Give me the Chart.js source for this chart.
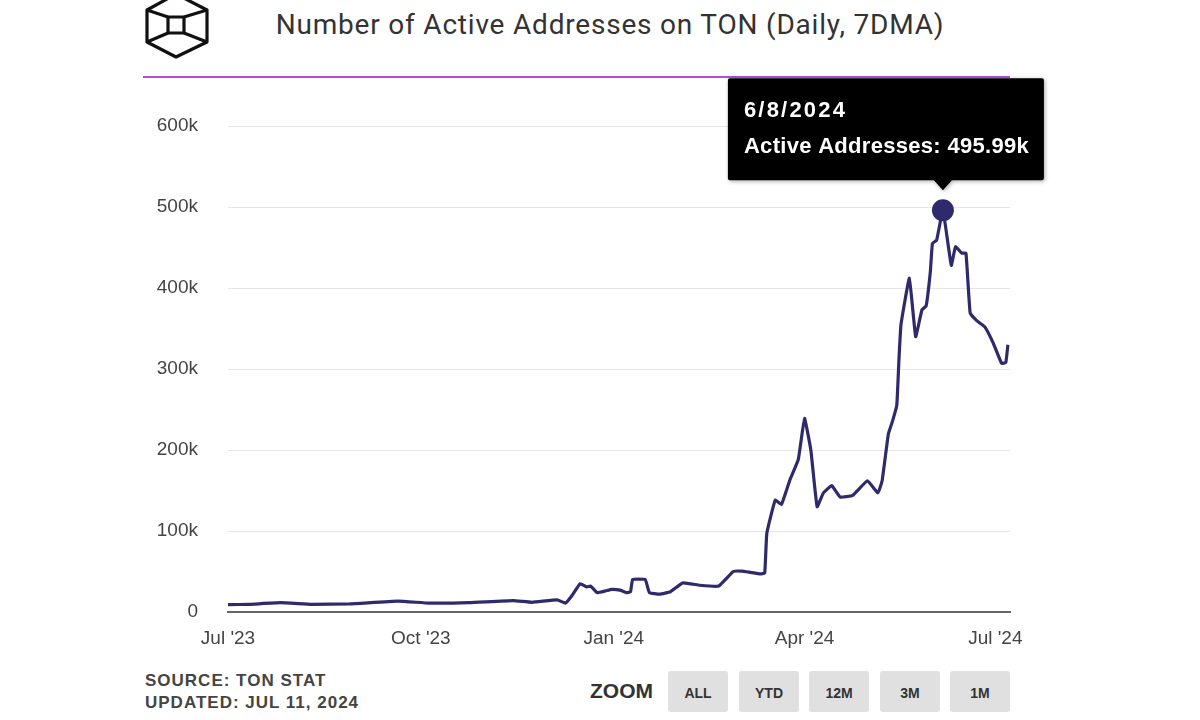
<!DOCTYPE html>
<html>
<head>
<meta charset="utf-8">
<script src="https://cdn.jsdelivr.net/npm/chart.js@4.4.1/dist/chart.umd.min.js"></script>
<style>
  html, body { margin:0; padding:0; background:#fff; }
  body { width:1200px; height:720px; position:relative; overflow:hidden; font-family:"Liberation Sans", Arial, sans-serif; }
  #title { position:absolute; left:0; width:1220px; top:8px; text-align:center; font-family:Roboto, sans-serif; font-size:28px; letter-spacing:0.8px; color:#333; white-space:nowrap; }
  #logo { position:absolute; left:140px; top:-8px; }
  #rule { position:absolute; left:143px; top:76px; width:867px; height:2px; background:#b350d6; }
  #src { position:absolute; left:145px; top:670px; font-weight:bold; font-size:17px; color:#444; line-height:22px; letter-spacing:1px; }
  #zoomlbl { position:absolute; left:590px; top:679px; font-weight:bold; font-size:21px; color:#333; }
  .btn { position:absolute; top:671px; height:41px; width:60px; background:#e0e0e0; border-radius:3px; font-weight:bold; font-size:14px; color:#333; text-align:center; line-height:44px; }
  canvas { position:absolute; left:0; top:0; }
</style>
</head>
<body>
<svg id="logo" width="72" height="70" viewBox="0 0 72 70">
  <g fill="none" stroke="#111" stroke-width="3.2" stroke-linejoin="round">
    <polygon points="36,2 67,18 67,50 36,65 7,50 7,18"/>
    <rect x="28" y="25" width="16" height="16"/>
    <line x1="7" y1="18" x2="28" y2="25"/>
    <line x1="67" y1="18" x2="44" y2="25"/>
    <line x1="7" y1="50" x2="28" y2="41"/>
    <line x1="67" y1="50" x2="44" y2="41"/>
  </g>
</svg>
<div id="title">Number of Active Addresses on TON (Daily, 7DMA)</div>
<div id="rule"></div>
<div id="src">SOURCE: TON STAT<br>UPDATED: JUL 11, 2024</div>
<div id="zoomlbl">ZOOM</div>
<div class="btn" style="left:668px">ALL</div>
<div class="btn" style="left:739px">YTD</div>
<div class="btn" style="left:809px">12M</div>
<div class="btn" style="left:880px">3M</div>
<div class="btn" style="left:950px">1M</div>
<canvas id="c" width="1200" height="720"></canvas>
<script>
// Days since 1 Jul 2023
const days = [0,10,25,40,58,81,96,115,136,145,157,161,164,168,171,173,176,180,183,187,190,192,193,199,201,206,211,217,225,234,241,245,249,254,256,257,261,264,268,272,275,278,281,284,288,292,298,305,310,312,315,317,319,320,321,325,328,331,333,335,336,338,341,345,347,350,352,354,357,361,365,369,371,372];
// Active addresses (7DMA)
const activeAddresses = [9000,9500,11500,9500,10000,13500,11000,11500,14000,12000,15000,11000,20000,35000,31000,32000,24000,26000,28000,27000,24000,25000,40000,40000,24000,22000,25000,36000,33000,32000,50000,50500,49000,47000,48000,97000,138000,133000,163000,188000,239000,200000,130000,147000,156000,142000,144000,162000,147000,162000,220000,236000,255000,310000,355000,412000,340000,373000,378000,420000,455000,459000,495990,428000,451000,443000,443000,369000,360000,352000,332000,307000,308000,330000];
const xTickValues = [0,92,184,275,366];
const xTickLabels = ["Jul '23","Oct '23","Jan '24","Apr '24","Jul '24"];
const yTickValues = [0,100000,200000,300000,400000,500000,600000];
const highlightDate = "6/8/2024";
const seriesName = "Active Addresses";

const peakIdx = activeAddresses.indexOf(Math.max(...activeAddresses));
const pts = days.map((d,i)=>({x:d, y:activeAddresses[i]}));
const lineColor = '#2e2a6c';
const axisFont = { family:'"Liberation Sans", Arial, sans-serif', size:19 };

const tooltipPlugin = {
  id:'fixedTip',
  afterDraw(chart){
    const el = chart.getDatasetMeta(0).data[peakIdx];
    const px = el.x, py = el.y;
    const ctx = chart.ctx;
    const l = px-215, r = px+101, t = py-132, b = py-30;
    ctx.save();
    ctx.shadowColor='rgba(0,0,0,0.35)'; ctx.shadowBlur=4; ctx.shadowOffsetX=1; ctx.shadowOffsetY=1;
    ctx.fillStyle='#000';
    ctx.beginPath();
    ctx.moveTo(l+2,t); ctx.lineTo(r-2,t); ctx.quadraticCurveTo(r,t,r,t+2);
    ctx.lineTo(r,b-2); ctx.quadraticCurveTo(r,b,r-2,b);
    ctx.lineTo(px+9,b); ctx.lineTo(px,b+10); ctx.lineTo(px-9,b);
    ctx.lineTo(l+2,b); ctx.quadraticCurveTo(l,b,l,b-2);
    ctx.lineTo(l,t+2); ctx.quadraticCurveTo(l,t,l+2,t);
    ctx.closePath(); ctx.fill();
    ctx.restore();
    ctx.save();
    ctx.fillStyle='#fff';
    ctx.textBaseline='alphabetic';
    ctx.font='bold 22px "Liberation Sans", Arial, sans-serif';
    ctx.letterSpacing='2.2px';
    ctx.fillText(highlightDate, l+16, t+39);
    ctx.letterSpacing='0.3px';
    ctx.fillText(seriesName+': '+(activeAddresses[peakIdx]/1000).toFixed(2)+'k', l+16, t+75);
    ctx.restore();
  }
};

new Chart(document.getElementById('c'), {
  type:'line',
  data:{ datasets:[{
    data: pts,
    borderColor: lineColor,
    borderWidth: 3.2,
    tension: 0.1,
    fill:false,
    pointRadius: ctx => ctx.dataIndex===peakIdx ? 11 : 0,
    pointBackgroundColor: lineColor,
    pointBorderColor: lineColor,
    pointBorderWidth: 0
  }]},
  options:{
    responsive:false,
    animation:false,
    events:[],
    layout:{ padding:{ top:126, right:190, left:0, bottom:0 } },
    plugins:{ legend:{display:false}, tooltip:{enabled:false} },
    scales:{
      x:{
        type:'linear', min:0, max:373,
        afterBuildTicks: s => { s.ticks = xTickValues.map(v=>({value:v})); },
        afterFit: s => { s.height = 108; },
        ticks:{ autoSkip:false, maxRotation:0, padding:15, color:'#444', font:axisFont,
          callback: v => { const i = xTickValues.indexOf(v); return i>=0 ? xTickLabels[i] : ''; } },
        grid:{ display:false, drawTicks:false },
        border:{ display:true, color:'#666', width:2 }
      },
      y:{
        min:0, max:600000,
        afterBuildTicks: s => { s.ticks = yTickValues.map(v=>({value:v})); },
        afterFit: s => { s.width = 228; },
        ticks:{ padding:30, color:'#444', font:axisFont,
          callback: v => v===0 ? '0' : (v/1000)+'k' },
        grid:{ color:'#e6e6e6', lineWidth:1, drawTicks:false },
        border:{ display:false }
      }
    }
  },
  plugins:[tooltipPlugin]
});
</script>
</body>
</html>
